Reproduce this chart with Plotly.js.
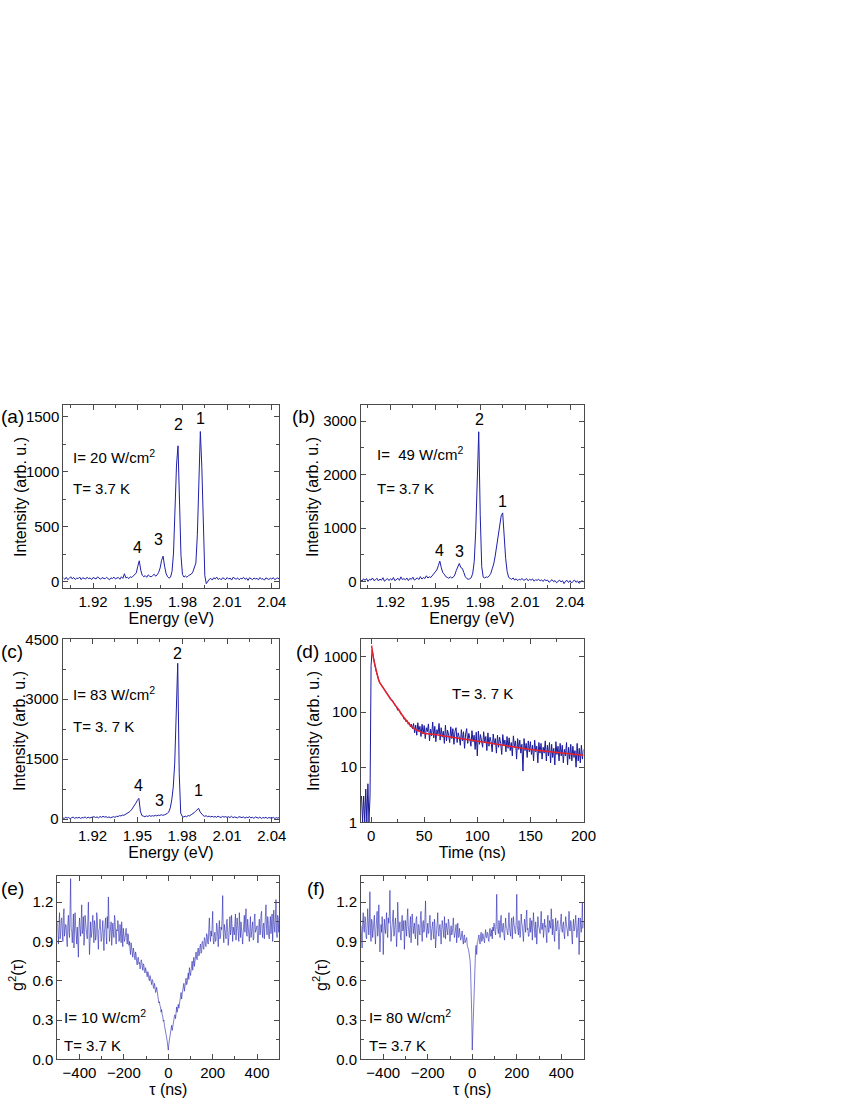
<!DOCTYPE html>
<html><head><meta charset="utf-8">
<script src="https://cdn.plot.ly/plotly-3.0.1.min.js"></script>
<style>html,body{margin:0;padding:0;background:#fff}</style>
</head><body>
<div id="chart" style="width:850px;height:1100px"></div>
<script>
// ---------- DATA ----------
// PL spectra: energy grid start / step (eV)
const energyStart = 1.900;
const energyStep = 0.001;
// (a) I = 20 W/cm2
const specA = [
 35,22,40,18,30,45,25,38,20,33,
 28,42,19,36,30,24,41,27,35,20,
 38,31,25,44,29,22,37,33,26,40,
 30,18,35,28,42,25,33,38,22,45,
 30,72,35,40,28,45,38,52,60,80,
 140,190,105,58,45,55,40,62,50,45,
 55,68,50,62,85,125,195,232,140,75,
 45,32,42,95,260,620,1060,1235,740,240,
 65,42,52,40,55,62,70,90,125,170,
 430,960,1365,1040,430,55,-18,5,22,30,
 15,36,25,42,20,31,17,36,27,19,
 38,24,33,15,40,28,22,35,18,30,
 26,39,21,33,12,36,27,19,34,25,
 30,17,38,23,28,14,35,26,20,32,
 24,37,18,29,34,22];
// (b) I = 49 W/cm2
const specB = [
 40,10,55,25,60,5,45,30,70,20,
 35,65,15,50,28,75,10,42,60,22,
 55,30,80,18,48,65,25,90,40,58,
 35,70,20,62,45,85,30,55,72,40,
 95,50,78,60,110,70,90,80,115,130,
 170,220,300,385,260,170,140,95,80,65,
 90,70,85,125,210,290,340,265,250,175,
 95,60,45,55,75,160,380,950,2050,2800,
 1250,280,85,70,90,80,110,150,240,330,
 480,690,890,1100,1230,1285,820,430,190,80,
 60,45,70,30,55,20,48,35,62,25,
 40,58,18,45,30,52,10,38,25,48,
 15,35,5,42,20,30,-10,25,38,0,
 22,-20,15,30,-5,18,-35,10,25,-15,
 20,-25,8,30,-10,15,-30,5,22,-5];
// (c) I = 83 W/cm2
const specC = [
 30,15,45,25,40,10,35,50,20,38,
 28,45,15,40,32,55,22,48,30,42,
 35,60,40,55,30,65,45,70,50,62,
 40,55,35,50,60,45,70,65,85,80,
 100,95,120,130,160,190,230,280,330,400,
 470,520,200,90,75,60,80,65,90,70,
 85,75,95,80,100,90,110,95,105,120,
 140,180,280,480,800,1400,2600,3900,1150,150,
 70,55,75,60,90,80,110,130,160,200,
 240,270,180,120,90,70,85,60,75,55,
 70,50,65,45,72,55,40,68,50,62,
 45,58,40,70,35,55,48,30,60,42,
 38,55,25,48,35,60,30,45,20,52,
 35,25,50,15,40,28,45,18,38,30,
 22,42,15,35,25,40];
const peakLabels = ['1','2','3','4'];
const peakA_E = [1.9922,1.977,1.9642,1.9501], peakA_Y = [1485,1425,385,313];
const peakB_E = [1.9947,1.9794,1.966,1.9525], peakB_Y = [1495,3022,561,592];
const peakC_E = [1.9909,1.9769,1.9646,1.9508], peakC_Y = [709,4150,476,851];

// (d) time-resolved PL: time grid (ns) and counts
const decayStart = -9;
const decayStep = 1;
const decayCounts = [
 3,1,3,1,4,1,5,1,3,
 700,1350,990,810,640,530,450,385,345,322,
 300,280,262,250,226,222,198,190,175,168,
 165,150,140,128,124,108,112,98,92,88,
 86,74,76,66,70,60,64,54,60,50,
 62,42,58,38,64,45,55,36,60,40,
 57,33,52,44,61,30,49,37,66,34,
 55,29,48,40,62,31,52,35,45,27,
 58,30,47,38,28,54,33,50,26,45,
 52,28,42,35,25,48,30,44,22,40,
 50,27,41,33,24,46,29,38,21,43,
 16,45,26,39,31,23,44,28,36,20,
 42,24,35,29,19,40,26,33,18,38,
 23,35,27,17,39,25,31,19,36,22,
 34,20,28,16,37,23,30,14,33,21,
 31,18,26,8.5,33,20,27,15,30,19,
 29,17,25,13,31,19,24,12,28,18,
 27,14,23,18,30,13,25,16,28,12,
 26,15,22,11,29,17,24,13,27,16,
 25,12,21,16,28,11,23,14,26,13,
 24,15,20,10,27,13,22,12,25,14,21];
const fitTime = [0.5,1,2,3,4,5,6,7,8,10,12,14,16,18,20,23,26,30,34,38,42,46,50,60,75,100,125,150,175,200];
const fitCounts = [1600,1300,1000,800,650,530,440,385,345,300,262,228,200,176,158,133,110,84,67,54,48,44,41,39,35,30,25,21,18.5,16.5];

// (e),(f) g2(tau): delay grid (ns)
const tauStart = -500;
const tauStep = 2.5;
const g2Low = [
 1.05,0.96,0.88,1.01,1.12,0.92,0.95,1.06,1.08,0.99,0.90,1.10,1.15,0.94,0.97,1.03,1.02,0.91,0.86,1.04,
 1.10,0.97,0.93,1.14,1.38,1.00,0.98,0.89,1.05,1.11,0.85,0.95,1.12,1.02,0.96,0.88,1.01,0.93,0.78,0.99,
 1.08,1.00,0.94,1.05,1.18,0.96,0.99,1.09,0.87,0.93,1.10,1.01,1.03,0.95,0.92,1.07,1.20,0.98,0.80,0.90,
 1.05,0.93,0.96,1.04,1.10,0.98,0.89,1.06,1.02,0.91,0.94,1.12,1.08,0.95,0.84,0.99,1.00,1.07,0.97,0.90,
 0.92,1.01,1.06,0.94,0.83,0.97,1.01,1.08,0.95,0.88,1.09,1.00,1.24,1.03,0.90,0.96,0.99,1.05,0.87,0.93,
 1.04,0.97,0.93,1.10,1.07,0.95,0.88,0.99,0.98,1.06,1.02,0.90,0.91,1.03,0.96,0.89,1.05,0.94,0.86,1.00,
 0.97,0.90,0.92,0.99,1.00,0.93,0.88,0.96,0.95,0.87,0.90,0.84,0.80,0.89,0.86,0.81,0.78,0.85,0.83,0.79,
 0.76,0.82,0.80,0.74,0.72,0.77,0.78,0.73,0.74,0.69,0.70,0.76,0.75,0.71,0.68,0.73,0.72,0.67,0.66,0.70,
 0.68,0.64,0.63,0.67,0.66,0.61,0.60,0.64,0.62,0.58,0.57,0.61,0.60,0.55,0.54,0.58,0.56,0.51,0.52,0.55,
 0.50,0.47,0.46,0.43,0.44,0.41,0.40,0.36,0.38,0.34,0.33,0.29,0.30,0.26,0.24,0.21,0.20,0.16,0.14,0.10,
 0.07,0.12,
 0.15,0.18,0.20,0.23,0.26,0.22,0.24,0.28,0.30,0.33,0.34,0.31,0.38,0.40,0.36,0.41,0.42,0.39,0.44,0.47,
 0.48,0.51,0.46,0.50,0.53,0.56,0.58,0.52,0.55,0.60,0.62,0.57,0.58,0.63,0.66,0.61,0.70,0.67,0.64,0.69,
 0.72,0.75,0.68,0.73,0.78,0.71,0.74,0.80,0.82,0.77,0.76,0.83,0.85,0.79,0.80,0.86,0.88,0.81,0.82,0.90,
 0.90,0.85,0.84,0.93,0.92,0.87,0.86,0.96,0.95,0.89,0.88,1.00,1.08,0.94,0.90,0.98,0.94,1.02,1.13,0.91,
 0.88,0.95,0.97,0.90,0.91,1.04,1.02,0.94,0.86,0.99,1.06,0.92,0.93,1.01,0.99,1.08,1.25,0.96,0.89,1.03,
 1.00,0.94,0.92,1.05,1.07,0.97,0.87,0.93,1.03,1.09,0.95,0.99,1.10,0.92,0.90,1.01,0.98,0.95,1.04,1.11,
 0.91,0.98,1.08,1.02,0.96,0.90,1.12,1.00,0.93,1.05,1.01,0.94,0.88,0.97,1.06,1.10,0.97,1.03,1.15,0.95,
 0.94,1.07,1.03,0.96,0.90,1.00,1.09,0.93,0.98,1.04,1.05,0.91,0.92,1.08,1.11,0.97,0.99,1.02,1.02,0.89,
 0.89,1.01,1.07,0.95,0.96,1.10,1.13,0.99,0.93,1.02,1.04,0.92,0.98,1.06,1.18,1.00,0.95,1.09,1.06,0.94,
 0.92,1.03,1.09,0.96,1.01,1.11,0.90,0.99,1.14,1.02,0.97,1.07,1.22,0.98,0.93,1.10,1.08,0.97,1.05];
const g2High = [
 1.02,0.95,0.85,1.04,1.12,0.99,0.97,1.09,1.08,0.94,0.92,1.01,1.15,1.06,0.95,1.03,1.28,0.98,0.90,1.07,
 1.05,0.93,0.98,1.02,1.10,0.96,0.88,1.00,1.06,1.13,0.94,0.99,1.18,1.04,0.82,0.92,1.03,0.97,1.09,1.01,
 0.80,0.95,1.07,1.00,0.96,1.05,1.12,0.98,0.93,1.08,1.04,1.11,1.29,1.02,0.90,0.97,1.01,1.06,1.14,0.94,
 0.95,1.03,1.08,0.99,0.86,0.96,1.20,1.07,0.97,1.01,1.05,0.93,0.91,1.04,1.10,0.98,0.99,1.06,0.84,0.97,
 1.06,1.00,0.94,1.08,1.15,1.02,0.98,0.93,1.03,1.09,0.89,0.97,1.11,1.05,0.96,1.01,1.04,0.95,0.92,1.07,
 1.09,0.98,0.87,1.03,1.02,0.96,0.95,1.10,1.13,1.00,0.90,1.04,1.06,0.97,0.99,1.08,1.21,1.01,0.93,0.99,
 1.04,0.96,0.97,1.06,1.10,1.00,0.91,0.98,1.01,1.05,0.95,0.92,1.07,1.02,0.85,0.97,0.99,1.04,1.12,0.96,
 0.94,1.01,1.03,0.97,0.88,0.99,1.06,1.02,0.96,0.93,1.09,1.00,0.92,1.04,1.00,0.95,0.95,1.07,1.05,0.98,
 0.90,0.97,1.02,0.95,0.96,1.01,1.08,0.98,0.93,0.96,0.99,1.03,0.89,0.95,1.04,0.93,0.94,1.00,0.97,0.91,
 0.92,0.96,0.98,0.91,0.88,0.94,0.95,0.89,0.90,0.92,0.93,0.87,0.86,0.84,0.82,0.79,0.76,0.68,0.55,0.35,
 0.07,0.22,
 0.40,0.58,0.68,0.78,0.84,0.87,0.80,0.89,0.90,0.93,0.95,0.91,0.88,0.94,0.97,0.90,0.91,0.96,0.94,0.92,
 0.89,0.95,0.99,0.93,0.93,0.97,0.96,0.91,0.90,0.98,1.00,0.94,0.94,0.99,0.92,1.01,0.98,1.04,1.03,0.97,
 0.95,1.05,1.26,1.00,0.99,0.96,1.06,1.02,0.93,1.07,1.10,0.98,0.97,1.03,1.04,0.95,0.91,1.00,1.08,1.01,
 1.00,0.97,0.95,1.04,1.12,1.01,0.98,0.94,1.05,1.08,0.92,0.99,1.09,1.03,1.01,0.96,0.96,1.06,1.26,1.02,
 0.99,0.95,1.06,1.01,0.93,0.98,1.11,1.04,1.02,0.96,0.90,1.00,1.07,1.03,0.97,1.09,1.14,0.99,1.00,0.94,
 0.94,1.02,1.08,0.97,1.03,1.06,0.91,0.99,1.12,1.04,0.98,0.93,1.05,1.00,0.88,0.96,1.09,1.03,1.01,0.97,
 0.96,1.05,1.13,0.99,1.00,1.04,0.93,0.98,1.07,1.01,1.02,0.95,0.89,1.03,1.10,0.97,0.97,1.06,1.04,1.00,
 1.15,1.02,0.95,1.07,1.03,0.96,0.90,1.00,1.08,0.98,0.99,1.05,1.06,0.94,0.84,0.97,1.02,1.09,1.11,0.99,
 0.97,1.03,1.05,0.96,0.92,1.01,1.09,1.04,1.00,0.95,0.94,1.02,1.13,0.99,0.98,1.06,1.04,0.93,0.88,1.00,
 1.07,0.98,0.99,1.04,1.10,1.01,0.93,0.97,1.03,1.08,0.80,0.96,1.08,1.02,0.97,1.05,1.20,1.00,1.05];

// ---------- LAYOUT HELPERS ----------
const W = 850, H = 1100;
const px = v => v / W;
const py = v => 1 - v / H;
const FONT = 'Liberation Sans, Arial, sans-serif';
const AX = '#4a4a4a';
const BLUE = '#1f1fa8';

function ax(o) {
  return Object.assign({
    showline: true, mirror: 'ticks', linecolor: AX, linewidth: 1,
    ticks: 'inside', ticklen: 5, tickwidth: 1, tickcolor: AX,
    showgrid: false, zeroline: false, fixedrange: true,
    tickfont: {family: FONT, size: 15, color: '#000'}
  }, o);
}
function minor(d, t0) {
  const m = {ticks: 'inside', ticklen: 3, tickwidth: 1, tickcolor: AX, showgrid: false, dtick: d};
  if (t0 !== undefined) m.tick0 = t0;
  return m;
}
const tFont = {family: FONT, size: 16, color: '#000'};

const layout = {
  width: W, height: H, showlegend: false,
  margin: {l: 0, r: 0, t: 0, b: 0},
  paper_bgcolor: '#fff', plot_bgcolor: '#fff',
  font: {family: FONT, color: '#000'},
  // (a)
  xaxis: ax({domain: [px(63.3), px(279.3)], anchor: 'y', range: [1.900, 2.045], dtick: 0.03, tick0: 1.92,
    minor: minor(0.015, 1.92), title: {text: 'Energy (eV)', font: tFont, standoff: 2}}),
  yaxis: ax({domain: [py(588.3), py(405)], anchor: 'x', range: [-60, 1606], dtick: 500, minor: minor(250)}),
  // (b)
  xaxis2: ax({domain: [px(360.5), px(583.5)], anchor: 'y2', range: [1.900, 2.049], dtick: 0.03, tick0: 1.92,
    minor: minor(0.015, 1.92), title: {text: 'Energy (eV)', font: tFont, standoff: 2}}),
  yaxis2: ax({domain: [py(588.3), py(405)], anchor: 'x2', range: [-123, 3300], dtick: 1000, minor: minor(500)}),
  // (c)
  xaxis3: ax({domain: [px(62.7), px(279.3)], anchor: 'y3', range: [1.900, 2.045], dtick: 0.03, tick0: 1.92,
    minor: minor(0.015, 1.92), title: {text: 'Energy (eV)', font: tFont, standoff: 2}}),
  yaxis3: ax({domain: [py(822.3), py(639.3)], anchor: 'x3', range: [-80, 4500], dtick: 1500, minor: minor(750)}),
  // (d)
  xaxis4: ax({domain: [px(361), px(583.5)], anchor: 'y4', range: [-9.5, 200], dtick: 50, tick0: 0,
    minor: minor(25, 0), title: {text: 'Time (ns)', font: tFont, standoff: 2}}),
  yaxis4: ax({domain: [py(822.3), py(639.3)], anchor: 'x4', type: 'log', range: [0, 3.32],
    tickmode: 'array', tickvals: [1, 10, 100, 1000], ticktext: ['1', '10', '100', '1000']}),
  // (e)
  xaxis5: ax({domain: [px(57.3), px(279.3)], anchor: 'y5', range: [-500, 500], dtick: 200, tick0: 0,
    minor: minor(100, 0), title: {text: 'τ (ns)', font: tFont, standoff: 2}}),
  yaxis5: ax({domain: [py(1059.3), py(876)], anchor: 'x5', range: [0, 1.4], dtick: 0.3, tick0: 0, tickformat: '.1f',
    minor: minor(0.15, 0)}),
  // (f)
  xaxis6: ax({domain: [px(361), px(583.5)], anchor: 'y6', range: [-500, 500], dtick: 200, tick0: 0,
    minor: minor(100, 0), title: {text: 'τ (ns)', font: tFont, standoff: 2}}),
  yaxis6: ax({domain: [py(1059.3), py(876)], anchor: 'x6', range: [0, 1.4], dtick: 0.3, tick0: 0, tickformat: '.1f',
    minor: minor(0.15, 0)}),
  annotations: []
};

const ann = layout.annotations;
function note(text, x, y, size) {
  ann.push({text: text, xref: 'paper', yref: 'paper', x: px(x), y: py(y), xanchor: 'left', yanchor: 'middle',
    showarrow: false, borderpad: 0, font: {family: FONT, size: size || 15, color: '#000'}});
}
function ytitle(text, x, y) {
  ann.push({text: text, xref: 'paper', yref: 'paper', x: px(x), y: py(y), xanchor: 'center', yanchor: 'middle',
    textangle: -90, showarrow: false, borderpad: 0, font: tFont});
}
function peaks(xs, ys, xr, yr) {
  for (let i = 0; i < peakLabels.length; i++) {
    ann.push({text: peakLabels[i], xref: xr, yref: yr, x: xs[i], y: ys[i], xanchor: 'center', yanchor: 'middle',
      showarrow: false, borderpad: 0, font: {family: FONT, size: 16, color: '#000'}});
  }
}
// y-axis titles
ytitle('Intensity (arb. u.)', 20, 497);
ytitle('Intensity (arb. u.)', 312, 497);
ytitle('Intensity (arb. u.)', 19, 731);
ytitle('Intensity (arb. u.)', 313, 731);
ytitle('g<sup>2</sup>(τ)', 16, 975);
ytitle('g<sup>2</sup>(τ)', 320, 975);
// panel letters
note('(a)', 0, 416.7, 19); note('(b)', 290.5, 416.7, 19);
note('(c)', 0, 651.7, 19); note('(d)', 294.5, 651.7, 19);
note('(e)', 0, 888.3, 19); note('(f)', 306, 888.3, 19);
// conditions
note('I= 20 W/cm<sup>2</sup>', 72, 456.7); note('T= 3.7 K', 72, 488.3);
note('I=\u00a0 49 W/cm<sup>2</sup>', 376, 453.3); note('T= 3.7 K', 376, 488.3);
note('I= 83 W/cm<sup>2</sup>', 72, 693.3); note('T= 3. 7 K', 72, 726.7);
note('T= 3. 7 K', 451, 693.3);
note('I= 10 W/cm<sup>2</sup>', 63, 1016.7); note('T= 3.7 K', 63, 1045);
note('I= 80 W/cm<sup>2</sup>', 368, 1016.7); note('T= 3.7 K', 368, 1045);
// peak numbers
peaks(peakA_E, peakA_Y, 'x', 'y');
peaks(peakB_E, peakB_Y, 'x2', 'y2');
peaks(peakC_E, peakC_Y, 'x3', 'y3');

const line = (c, w) => ({color: c, width: w});
const data = [
  {type: 'scatter', mode: 'lines', x0: energyStart, dx: energyStep, y: specA, xaxis: 'x', yaxis: 'y', line: line(BLUE, 1), hoverinfo: 'skip'},
  {type: 'scatter', mode: 'lines', x0: energyStart, dx: energyStep, y: specB, xaxis: 'x2', yaxis: 'y2', line: line(BLUE, 1), hoverinfo: 'skip'},
  {type: 'scatter', mode: 'lines', x0: energyStart, dx: energyStep, y: specC, xaxis: 'x3', yaxis: 'y3', line: line(BLUE, 1), hoverinfo: 'skip'},
  {type: 'scatter', mode: 'lines', x0: decayStart, dx: decayStep, y: decayCounts, xaxis: 'x4', yaxis: 'y4', line: line('#1a1a9c', 1), hoverinfo: 'skip'},
  {type: 'scatter', mode: 'lines', x: fitTime, y: fitCounts, xaxis: 'x4', yaxis: 'y4', line: line('#e8202a', 1.5), hoverinfo: 'skip'},
  {type: 'scatter', mode: 'lines', x0: tauStart, dx: tauStep, y: g2Low, xaxis: 'x5', yaxis: 'y5', line: line('rgba(35,35,175,0.85)', 0.7), hoverinfo: 'skip'},
  {type: 'scatter', mode: 'lines', x0: tauStart, dx: tauStep, y: g2High, xaxis: 'x6', yaxis: 'y6', line: line('rgba(35,35,175,0.85)', 0.7), hoverinfo: 'skip'}
];

Plotly.newPlot('chart', data, layout, {displayModeBar: false, staticPlot: true});
</script>
</body></html>
